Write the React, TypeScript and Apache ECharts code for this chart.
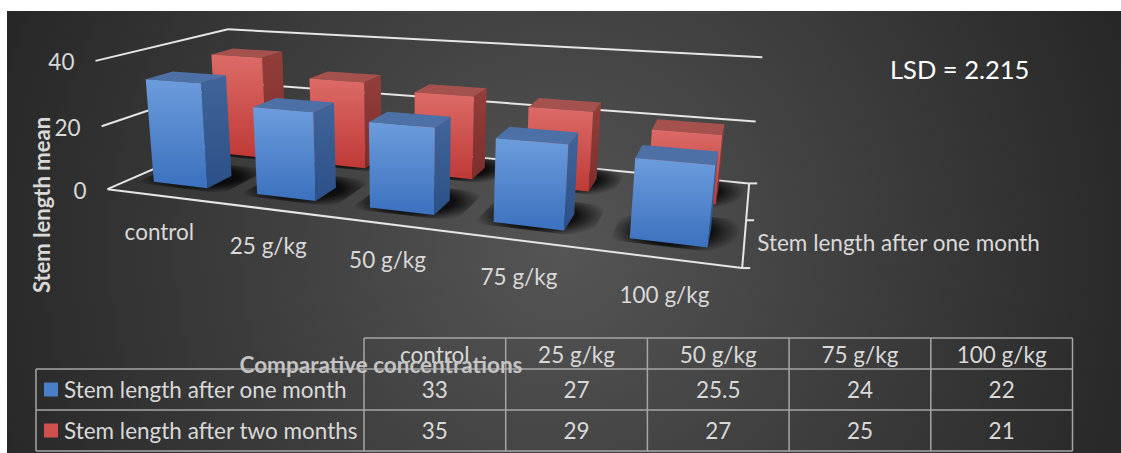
import React, { useEffect, useRef } from "react";
import * as echarts from "echarts";

// ---------- data ----------
const categories = ["control", "25 g/kg", "50 g/kg", "75 g/kg", "100 g/kg"];
const seriesNames = ["Stem length after one month", "Stem length after two months"];
const oneMonth = [33, 27, 25.5, 24, 22];
const twoMonths = [35, 29, 27, 25, 21];
const valueTicks = [0, 20, 40];
const yMax = 40;
const yAxisTitle = "Stem length mean";
const xAxisTitle = "Comparative concentrations";
const lsdLabel = "LSD = 2.215";

// ---------- layout / style ----------
const W = 1121;
const H = 453;
const FONT = "Lato, 'Open Sans', sans-serif";
const TXT = "#d9d9d9";
const LINE = "#e6e6e6";
const FS = 22.5;
const G = { left: 0, top: 0, width: 500, height: 400 }; // hidden helper grid
const BAR_HALF = 0.265; // half bar width in category units
const BAR_HALF_D = 0.19; // half bar depth in series units
const NCAT = categories.length;
const NSER = seriesNames.length;

// perspective calibration: [X (category units), Y (fraction of max), Z (series units), px, py]
const calib: number[][] = [
  [0, 0, 0, 108, 189],
  [0, 0.5, 0, 101.5, 126.5],
  [0, 1, 0, 95, 61],
  [0, 1, 2, 228.5, 29],
  [0, 0.5, 2, 231, 83],
  [0, 0, 2, 233, 134],
  [5, 1, 2, 762, 57],
  [5, 0.5, 2, 756, 122],
  [5, 0, 2, 749, 183.5],
  [5, 0, 1, 746.5, 220],
  [5, 0, 0, 742, 268],
];

function fitProjection(): number[] {
  const n = 11;
  const M = Array.from({ length: n }, () => new Array(n + 1).fill(0));
  const add = (row: number[], rhs: number) => {
    for (let i = 0; i < n; i++) {
      for (let j = 0; j < n; j++) M[i][j] += row[i] * row[j];
      M[i][n] += row[i] * rhs;
    }
  };
  for (const [X, Y, Z, u, v] of calib) {
    add([X, Y, Z, 1, 0, 0, 0, 0, -u * X, -u * Y, -u * Z], u);
    add([0, 0, 0, 0, X, Y, Z, 1, -v * X, -v * Y, -v * Z], v);
  }
  for (let c = 0; c < n; c++) {
    let p = c;
    for (let r = c + 1; r < n; r++) if (Math.abs(M[r][c]) > Math.abs(M[p][c])) p = r;
    const tmp = M[c];
    M[c] = M[p];
    M[p] = tmp;
    for (let r = 0; r < n; r++) {
      if (r === c) continue;
      const f = M[r][c] / M[c][c];
      for (let k = c; k <= n; k++) M[r][k] -= f * M[c][k];
    }
  }
  return M.map((row, i) => row[n] / row[i]);
}
const PM = fitProjection();
function proj(X: number, Y: number, Z: number): number[] {
  const w = PM[8] * X + PM[9] * Y + PM[10] * Z + 1;
  return [
    (PM[0] * X + PM[1] * Y + PM[2] * Z + PM[3]) / w,
    (PM[4] * X + PM[5] * Y + PM[6] * Z + PM[7]) / w,
  ];
}

const barStyles = [
  { front: ["#6c9cdc", "#3b71be"], side: ["#41659a", "#2b5087"], top: "#4d70a6", key: "#4a7fc8" },
  { front: ["#dc6b67", "#bf3a37"], side: ["#943e3b", "#7c2e2c"], top: "#a5524f", key: "#d0504d" },
];

const vgrad = (c: string[]) => ({
  type: "linear",
  x: 0,
  y: 0,
  x2: 0,
  y2: 1,
  colorStops: [
    { offset: 0, color: c[0] },
    { offset: 1, color: c[1] },
  ],
});

function barGeom(api: any, s: number) {
  const idx = api.value(0);
  const val = api.value(1);
  const top = api.coord([idx, val]);
  const base = api.coord([idx, 0]);
  const bw = api.size([1, 0])[0];
  const Xc = (base[0] - G.left) / bw;
  const Yt = (base[1] - top[1]) / G.height;
  const x0 = Xc - BAR_HALF;
  const x1 = Xc + BAR_HALF;
  const z0 = s + 0.5 - BAR_HALF_D;
  const z1 = s + 0.5 + BAR_HALF_D;
  return { x0, x1, z0, z1, Yt };
}

function barSeries(s: number, values: number[]) {
  const st = barStyles[s];
  return {
    type: "custom",
    name: seriesNames[s],
    coordinateSystem: "cartesian2d",
    clip: false,
    z: s === 0 ? 12 : 11,
    data: values.map((v, i) => [i, v]),
    renderItem: (_p: any, api: any) => {
      const { x0, x1, z0, z1, Yt } = barGeom(api, s);
      const front = [proj(x0, 0, z0), proj(x1, 0, z0), proj(x1, Yt, z0), proj(x0, Yt, z0)];
      const right = [proj(x1, 0, z0), proj(x1, 0, z1), proj(x1, Yt, z1), proj(x1, Yt, z0)];
      const topF = [proj(x0, Yt, z0), proj(x1, Yt, z0), proj(x1, Yt, z1), proj(x0, Yt, z1)];
      return {
        type: "group",
        children: [
          { type: "polygon", shape: { points: right }, style: { fill: vgrad(st.side) } },
          { type: "polygon", shape: { points: topF }, style: { fill: st.top } },
          { type: "polygon", shape: { points: front }, style: { fill: vgrad(st.front) } },
        ],
      };
    },
  };
}

// soft shadow on the floor around each bar's base
function shadowSeries(s: number, values: number[]) {
  return {
    type: "custom",
    coordinateSystem: "cartesian2d",
    clip: false,
    silent: true,
    z: 9,
    data: values.map((v, i) => [i, v]),
    renderItem: (_p: any, api: any) => {
      const { x0, x1, z0, z1 } = barGeom(api, s);
      const a = x0 - 0.13;
      const b = x1 + 0.2;
      const c = z0 - 0.08;
      const d = z1 + 0.3;
      const pts = [proj(a, 0, c), proj(b, 0, c), proj(b, 0, d), proj(a, 0, d)];
      return {
        type: "polygon",
        shape: { points: pts },
        style: {
          fill: {
            type: "radial",
            x: 0.5,
            y: 0.5,
            r: 0.5,
            colorStops: [
              { offset: 0, color: "rgba(0,0,0,0.95)" },
              { offset: 0.55, color: "rgba(0,0,0,0.8)" },
              { offset: 1, color: "rgba(0,0,0,0)" },
            ],
          },
        },
      };
    },
  };
}

function seg(a: number[], b: number[], color = LINE, w = 2) {
  return {
    type: "line",
    z: 1,
    shape: { x1: a[0], y1: a[1], x2: b[0], y2: b[1] },
    style: { stroke: color, lineWidth: w },
    silent: true,
  };
}

function txt(x: number, y: number, text: string, o: any = {}) {
  return {
    type: "text",
    z: 3,
    x,
    y,
    silent: true,
    rotation: o.rotation || 0,
    style: {
      text,
      fill: o.fill || TXT,
      font: `${o.weight || "normal"} ${o.size || FS}px ${FONT}`,
      align: o.align || "center",
      verticalAlign: "middle",
    },
  };
}

function buildGraphics() {
  const g: any[] = [];
  // background
  g.push({
    type: "rect",
    z: 0,
    silent: true,
    shape: { x: 7, y: 11, width: W - 7, height: H - 11 },
    style: {
      fill: {
        type: "radial",
        x: 560,
        y: 250,
        r: 640,
        global: true,
        colorStops: [
          { offset: 0, color: "#555555" },
          { offset: 1, color: "#242424" },
        ],
      },
    },
  });
  const zBack = NSER;
  // walls / gridlines
  valueTicks.forEach((t) => {
    const y = t / yMax;
    g.push(seg(proj(0, y, 0), proj(0, y, zBack)));
    g.push(seg(proj(0, y, zBack), proj(NCAT, y, zBack)));
    const lp = proj(0, y, 0);
    g.push(txt(lp[0] - 21, lp[1] + 1, String(t), { align: "right" }));
  });
  // floor front edge and depth axis
  g.push(seg(proj(0, 0, 0), proj(NCAT, 0, 0)));
  g.push(seg(proj(NCAT, 0, 0), proj(NCAT, 0, zBack)));
  for (let z = 0; z <= NSER; z++) {
    const p = proj(NCAT, 0, z);
    g.push(seg(p, [p[0] + 8, p[1]]));
  }
  const dl = proj(NCAT, 0, 0.5);
  g.push(txt(dl[0] + 13, dl[1], seriesNames[0], { align: "left" }));
  // category labels
  categories.forEach((c, i) => {
    const p = proj(i + 0.5, 0, 0);
    g.push(txt(p[0] + 1, p[1] + 36, c));
  });
  // axis titles
  g.push(txt(41, 205, yAxisTitle, { rotation: Math.PI / 2, weight: "bold", size: 22 }));
  g.push(txt(890, 69, lsdLabel, { align: "left", size: 25.5, fill: "#ffffff" }));

  // data table
  const tLeft = 36;
  const tData = 364;
  const colW = (1072.5 - tData) / NCAT;
  const rowsY = [338, 369, 410, 451];
  const border = "#a6a6a6";
  const bw = 1.5;
  const tRight = tData + colW * NCAT;
  g.push(seg([tData, rowsY[0]], [tRight, rowsY[0]], border, bw));
  g.push(seg([tLeft, rowsY[1]], [tRight, rowsY[1]], border, bw));
  g.push(seg([tLeft, rowsY[2]], [tRight, rowsY[2]], border, bw));
  g.push(seg([tLeft, rowsY[3]], [tRight, rowsY[3]], border, bw));
  g.push(seg([tLeft, rowsY[1]], [tLeft, rowsY[3]], border, bw));
  for (let c = 0; c <= NCAT; c++) {
    const x = tData + colW * c;
    g.push(seg([x, rowsY[0]], [x, rowsY[3]], border, bw));
  }
  categories.forEach((c, i) => {
    g.push(txt(tData + colW * (i + 0.5), (rowsY[0] + rowsY[1]) / 2 + 1, c));
  });
  [oneMonth, twoMonths].forEach((vals, s) => {
    const cy = (rowsY[s + 1] + rowsY[s + 2]) / 2;
    g.push({
      type: "rect",
      z: 3,
      silent: true,
      shape: { x: 44, y: cy - 7, width: 14, height: 14 },
      style: { fill: barStyles[s].key },
    });
    g.push(txt(64, cy, seriesNames[s], { align: "left" }));
    vals.forEach((v, i) => {
      g.push(txt(tData + colW * (i + 0.5), cy, String(v)));
    });
  });
  g.push(txt(381, 364, xAxisTitle, { weight: "bold", fill: "#c4c4c4" }));
  return g;
}

export default function App() {
  const ref = useRef<HTMLDivElement>(null);
  useEffect(() => {
    document.body.style.margin = "0";
    if (!ref.current) return;
    const chart = echarts.init(ref.current, undefined, { renderer: "svg" });
    chart.setOption({
      animation: false,
      backgroundColor: "#ffffff",
      grid: { left: G.left, top: G.top, width: G.width, height: G.height, show: false },
      xAxis: { type: "category", data: categories, show: false },
      yAxis: { type: "value", min: 0, max: yMax, show: false },
      graphic: { elements: buildGraphics() },
      series: [
        shadowSeries(1, twoMonths),
        shadowSeries(0, oneMonth),
        barSeries(1, twoMonths),
        barSeries(0, oneMonth),
      ],
    });
    return () => chart.dispose();
  }, []);
  return <div ref={ref} style={{ width: W, height: H }} />;
}
